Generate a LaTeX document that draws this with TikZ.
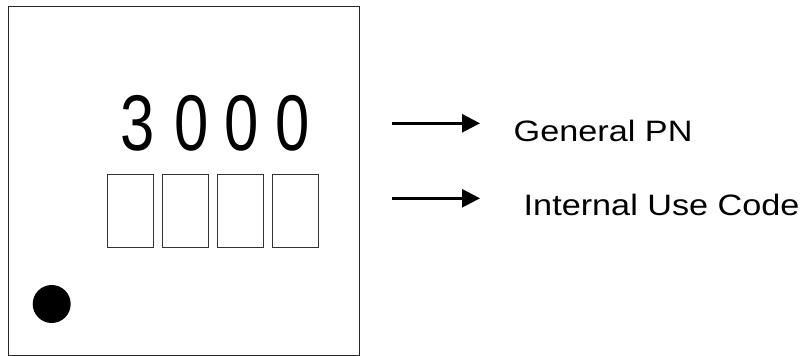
\documentclass[tikz,border=0pt]{standalone}
\usepackage{fontspec}
\setmainfont{Liberation Sans}
\usetikzlibrary{arrows.meta}
\begin{document}
\begin{tikzpicture}[x=1pt,y=-1pt,
  outline/.style={draw=black!85,line width=1pt},
  digitbox/.style={draw=black!80,line width=1.3pt,minimum width=46pt,minimum height=73pt,inner sep=0pt},
  digit/.style={anchor=base,inner sep=0pt,font=\fontsize{79}{90}\selectfont,xscale=0.78},
  label/.style={anchor=base west,inner sep=0pt,font=\fontsize{29.5}{35}\selectfont,xscale=1.16},
  pointer/.style={line width=2.6pt,-{Triangle[length=18pt,width=18pt]}}]
\useasboundingbox (0,0) rectangle (804,356);
\draw[outline] (8.3,6.7) rectangle (359.3,355.5);
\node[digit] (d1) at (137.5,150) {3};
\node[digit] (d2) at (191.7,150) {0};
\node[digit] (d3) at (241.7,150) {0};
\node[digit] (d4) at (292.5,150) {0};
\node[digitbox] (b1) at (130.2,211) {};
\node[digitbox] (b2) at (185.2,211) {};
\node[digitbox] (b3) at (240.2,211) {};
\node[digitbox] (b4) at (295.5,211) {};
\fill (51.7,304) circle (19);
\node[label] (gpn) at (513.5,141.7) {General PN};
\node[label] (iuc) at (523.5,215) {Internal Use Code};
\coordinate (a1) at (391.7,123.3);
\coordinate (a1e) at (480,123.3);
\coordinate (a2) at (391.7,198.3);
\coordinate (a2e) at (480,198.3);
\draw[pointer] (a1) -- (a1e);
\draw[pointer] (a2) -- (a2e);
\end{tikzpicture}
\end{document}
